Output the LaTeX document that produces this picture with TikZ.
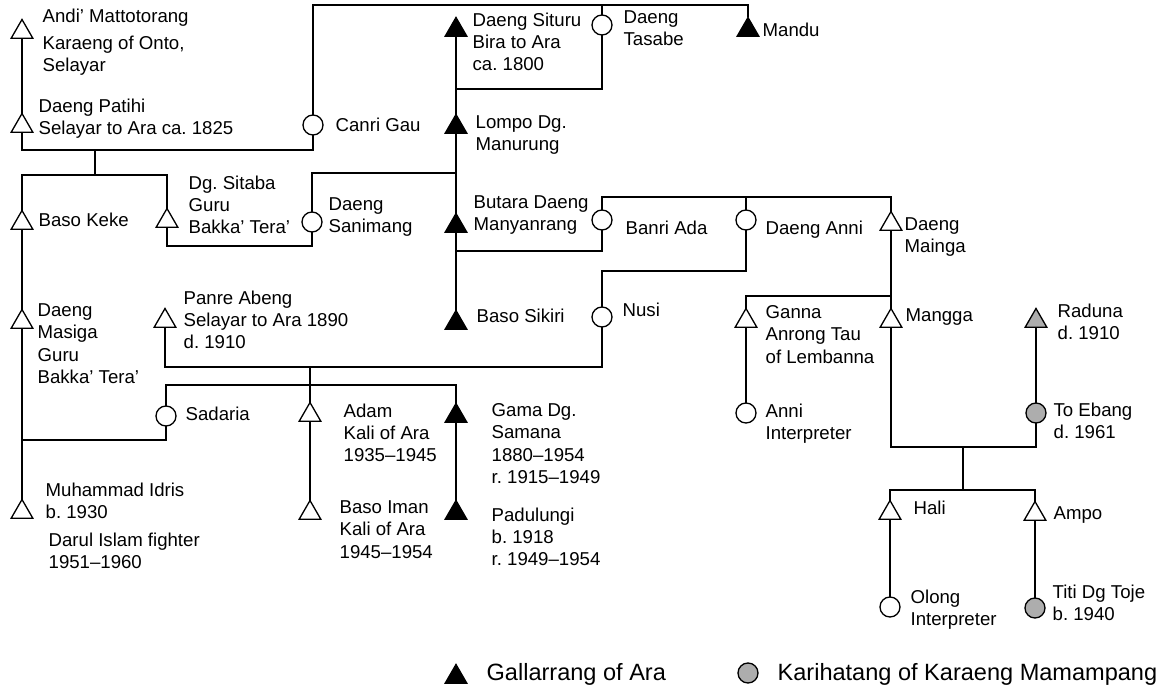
\documentclass[tikz,border=0pt]{standalone}
\usepackage{fontspec}
\setmainfont{Liberation Sans}
\usetikzlibrary{shapes.geometric}
\definecolor{karigray}{gray}{0.68}
\frenchspacing
\begin{document}
\begin{tikzpicture}[
x=0.02cm, y=-0.02cm,
line width=0.75pt,
male/.style={draw, regular polygon, regular polygon sides=3, minimum size=0.5cm, inner sep=0pt, outer sep=0pt, fill=white},
female/.style={draw, circle, minimum size=0.4cm, inner sep=0pt, outer sep=0pt, fill=white},
gallarrang/.style={fill=black},
karihatang/.style={fill=karigray},
lbl/.style={anchor=north west, inner sep=0pt, align=left, font=\fontsize{10.6pt}{12.7pt}\selectfont},
keylbl/.style={anchor=north west, inner sep=0pt, font=\fontsize{13.4pt}{16pt}\selectfont}
]
\useasboundingbox (0,0) rectangle (1161,686);

\node[male] (andi) at (22,32) {};
\node[male] (patihi) at (22,126) {};
\node[female] (canri) at (313,125) {};
\node[male,gallarrang] (situru) at (456,30) {};
\node[female] (tasabe) at (602,25) {};
\node[male,gallarrang] (mandu) at (748,30) {};
\node[male,gallarrang] (lompo) at (456,127) {};
\node[male] (bkeke) at (22,223) {};
\node[male] (sitaba) at (167,221) {};
\node[female] (sanimang) at (312,222) {};
\node[male,gallarrang] (butara) at (456,226) {};
\node[female] (banri) at (602,220) {};
\node[female] (dganni) at (746,220) {};
\node[male] (mainga) at (891,224) {};
\node[male] (masiga) at (22,322) {};
\node[male] (panre) at (165,321) {};
\node[male,gallarrang] (sikiri) at (456,323) {};
\node[female] (nusi) at (602,317) {};
\node[male] (ganna) at (746,321) {};
\node[male] (mangga) at (891,321) {};
\node[male,karihatang] (raduna) at (1036,321) {};
\node[female] (sadaria) at (166,416) {};
\node[male] (adam) at (310,415) {};
\node[male,gallarrang] (gama) at (456,416) {};
\node[female] (anni) at (746,413) {};
\node[female,karihatang] (ebang) at (1036,413) {};
\node[male] (idris) at (22,512) {};
\node[male] (iman) at (310,513) {};
\node[male,gallarrang] (padulungi) at (456,513) {};
\node[male] (hali) at (890,513) {};
\node[male] (ampo) at (1035,514) {};
\node[female] (olong) at (890,607) {};
\node[female,karihatang] (titi) at (1035,608) {};
\node[male,gallarrang] (keytri) at (456,677) {};
\node[female,karihatang] (keycirc) at (748,673) {};

\node[lbl] (andi-t) at (42,8) {Andi’ Mattotorang\\[2.6pt]Karaeng of Onto,\\Selayar};
\node[lbl] (patihi-t) at (38,98) {Daeng Patihi\\Selayar to Ara ca. 1825};
\node[lbl] (canri-t) at (335,117) {Canri Gau};
\node[lbl] (situru-t) at (472,12) {Daeng Situru\\Bira to Ara\\ca. 1800};
\node[lbl] (tasabe-t) at (623,10) {Daeng\\Tasabe};
\node[lbl] (mandu-t) at (762,22) {Mandu};
\node[lbl] (lompo-t) at (475,115) {Lompo Dg.\\Manurung};
\node[lbl] (sitaba-t) at (188,175) {Dg. Sitaba\\Guru\\Bakka’ Tera’};
\node[lbl] (bkeke-t) at (38,212) {Baso Keke};
\node[lbl] (sanimang-t) at (328,197) {Daeng\\Sanimang};
\node[lbl] (butara-t) at (473,195) {Butara Daeng\\Manyanrang};
\node[lbl] (banri-t) at (625,220) {Banri Ada};
\node[lbl] (dganni-t) at (765,220) {Daeng Anni};
\node[lbl] (mainga-t) at (904,217) {Daeng\\Mainga};
\node[lbl] (masiga-t) at (37,303) {Daeng\\Masiga\\Guru\\Bakka’ Tera’};
\node[lbl] (panre-t) at (183,290) {Panre Abeng\\Selayar to Ara 1890\\d. 1910};
\node[lbl] (sikiri-t) at (476,308) {Baso Sikiri};
\node[lbl] (nusi-t) at (622,302) {Nusi};
\node[lbl] (ganna-t) at (765,305) {Ganna\\Anrong Tau\\of Lembanna};
\node[lbl] (mangga-t) at (905,308) {Mangga};
\node[lbl] (raduna-t) at (1057,303) {Raduna\\d. 1910};
\node[lbl] (sadaria-t) at (185,406) {Sadaria};
\node[lbl] (adam-t) at (343,403) {Adam\\Kali of Ara\\1935–1945};
\node[lbl] (gama-t) at (491,403) {Gama Dg.\\Samana\\1880–1954\\r. 1915–1949};
\node[lbl] (anni-t) at (765,403) {Anni\\Interpreter};
\node[lbl] (ebang-t) at (1053,402) {To Ebang\\d. 1961};
\node[lbl] (idris-t) at (45,482) {Muhammad Idris\\b. 1930};
\node[lbl] (idris-n) at (48,532) {Darul Islam fighter\\1951–1960};
\node[lbl] (iman-t) at (339,500) {Baso Iman\\Kali of Ara\\1945–1954};
\node[lbl] (padulungi-t) at (491,507) {Padulungi\\b. 1918\\r. 1949–1954};
\node[lbl] (hali-t) at (913,500) {Hali};
\node[lbl] (ampo-t) at (1053,506) {Ampo};
\node[lbl] (olong-t) at (910,589) {Olong\\Interpreter};
\node[lbl] (titi-t) at (1052,584) {Titi Dg Toje\\b. 1940};
\node[keylbl] (keytri-t) at (486,663) {Gallarrang of Ara};
\node[keylbl] (keycirc-t) at (777,663) {Karihatang of Karaeng Mamampang};

\coordinate (m1) at (95,150);
\coordinate (c1) at (95,175);
\coordinate (top) at (530,5);
\coordinate (j1) at (456,89);
\coordinate (j2) at (456,173);
\coordinate (j3) at (240,246);
\coordinate (j4) at (456,251);
\coordinate (j5) at (746,197);
\coordinate (j6) at (670,271);
\coordinate (j7) at (891,296);
\coordinate (j8) at (963,447);
\coordinate (j9) at (963,490);
\coordinate (j10) at (310,367);
\coordinate (j11) at (310,385);
\coordinate (j12) at (22,440);

\draw (andi.south) -- (patihi.north);
\draw (patihi.south) |- (m1) -| (canri.south);
\draw (m1) -- (c1);
\draw (bkeke.north) |- (c1) -| (sitaba.north);
\draw (canri.north) |- (top) -| (mandu.north);
\draw (tasabe.north) -- (tasabe.north |- top);
\draw (situru.south) -- (lompo.north);
\draw (tasabe.south) |- (j1);
\draw (lompo.south) -- (butara.north);
\draw (sanimang.north) |- (j2);
\draw (sitaba.south) |- (j3) -| (sanimang.south);
\draw (butara.south) -- (sikiri.north);
\draw (banri.south) |- (j4);
\draw (banri.north) |- (j5) -| (mainga.north);
\draw (dganni.north) -- (j5);
\draw (dganni.south) |- (j6) -| (nusi.north);
\draw (mainga.south) -- (mangga.north);
\draw (ganna.north) |- (j7);
\draw (ganna.south) -- (anni.north);
\draw (raduna.south) -- (ebang.north);
\draw (mangga.south) |- (j8) -| (ebang.south);
\draw (j8) -- (j9);
\draw (hali.north) |- (j9) -| (ampo.north);
\draw (hali.south) -- (olong.north);
\draw (ampo.south) -- (titi.north);
\draw (panre.south) |- (j10) -| (nusi.south);
\draw (j10) -- (adam.north);
\draw (sadaria.north) |- (j11) -| (gama.north);
\draw (adam.south) -- (iman.north);
\draw (gama.south) -- (padulungi.north);
\draw (bkeke.south) -- (masiga.north);
\draw (masiga.south) -- (idris.north);
\draw (sadaria.south) |- (j12);
\end{tikzpicture}
\end{document}
